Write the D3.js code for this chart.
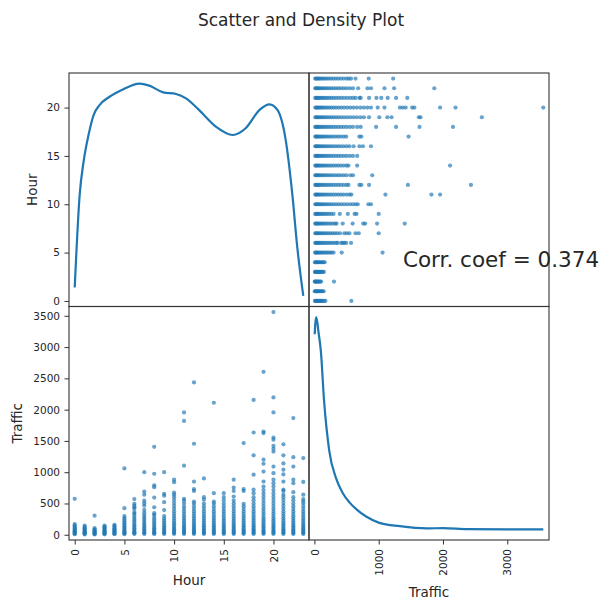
<!DOCTYPE html>
<html>
<head>
<meta charset="utf-8">
<script src="https://cdn.jsdelivr.net/npm/d3@7"></script>
<style>
  body { margin: 0; background: #fff; }
  text { font-family: "DejaVu Sans", sans-serif; fill: #262626; }
</style>
</head>
<body>
<div id="chart"></div>
<script>
// columns of the frame
const columns = ["Hour", "Traffic"];
const hours = [0, 1, 2, 3, 4, 5, 6, 7, 8, 9, 10, 11, 12, 13, 14, 15, 16, 17, 18, 19, 20, 21, 22, 23];

// traffic readings per hour
const trafficByHour = [
    [8, 18, 30, 42, 55, 68, 82, 96, 112, 128, 150, 172, 575],
    [6, 15, 26, 38, 50, 63, 77, 92, 108, 125, 145],
    [5, 12, 22, 33, 45, 58, 72, 88, 105, 305],
    [7, 16, 27, 39, 52, 66, 81, 97, 114, 130, 148],
    [8, 18, 30, 43, 57, 72, 88, 105, 123, 142, 160],
    [10, 22, 36, 52, 70, 90, 112, 135, 160, 185, 212, 240, 268, 298, 425, 1060],
    [12, 26, 42, 60, 80, 102, 126, 152, 180, 210, 240, 272, 305, 340, 362, 415, 440, 465, 495, 570],
    [12, 27, 44, 63, 85, 108, 133, 160, 188, 218, 250, 283, 318, 355, 398, 465, 505, 545, 640, 690, 1000],
    [11, 25, 41, 59, 80, 103, 128, 155, 184, 215, 248, 283, 320, 345, 440, 595, 760, 790, 975, 1405],
    [12, 27, 44, 63, 85, 109, 135, 163, 193, 225, 260, 298, 395, 520, 625, 655, 1000],
    [12, 28, 46, 66, 88, 112, 138, 166, 196, 228, 262, 298, 336, 376, 418, 462, 508, 555, 600, 640, 675, 840, 880],
    [12, 27, 44, 63, 85, 109, 135, 163, 193, 225, 259, 295, 333, 372, 412, 452, 500, 545, 575, 1105, 1820, 1955],
    [12, 27, 44, 63, 85, 109, 135, 163, 193, 225, 259, 295, 333, 372, 412, 455, 500, 530, 700, 730, 850, 1455, 2435],
    [12, 27, 44, 63, 85, 109, 135, 163, 193, 225, 259, 295, 333, 372, 412, 455, 500, 560, 600, 900],
    [12, 27, 44, 63, 85, 109, 135, 163, 193, 225, 259, 295, 333, 372, 412, 455, 500, 530, 665, 2110],
    [12, 27, 44, 63, 85, 109, 135, 163, 193, 225, 259, 295, 333, 372, 412, 455, 500, 550, 600, 665],
    [12, 27, 44, 63, 85, 109, 135, 163, 193, 225, 259, 295, 333, 372, 412, 455, 500, 545, 610, 700, 755, 880],
    [12, 27, 44, 63, 85, 109, 135, 163, 193, 225, 259, 295, 333, 372, 412, 455, 495, 700, 730, 1465],
    [12, 27, 44, 63, 85, 109, 135, 163, 193, 225, 259, 295, 333, 372, 412, 455, 500, 550, 600, 665, 720, 960, 1270, 1635, 2155],
    [14, 30, 48, 68, 90, 114, 140, 168, 198, 230, 264, 300, 338, 378, 420, 464, 510, 558, 608, 660, 715, 770, 850, 1010, 1135, 1200, 1625, 1650, 2605],
    [14, 30, 48, 68, 90, 114, 140, 168, 198, 230, 264, 300, 338, 378, 420, 464, 510, 558, 608, 660, 715, 770, 825, 880, 985, 1090, 1330, 1375, 1420, 1520, 1555, 1955, 2195, 3560],
    [13, 28, 46, 66, 88, 112, 138, 166, 196, 228, 262, 298, 336, 376, 418, 462, 508, 555, 600, 640, 700, 720, 850, 965, 1040, 1140, 1270, 1445],
    [12, 27, 44, 63, 85, 109, 135, 163, 193, 225, 259, 295, 333, 372, 412, 455, 500, 550, 600, 680, 825, 880, 1090, 1240, 1865],
    [12, 27, 44, 63, 85, 109, 135, 163, 193, 225, 259, 295, 333, 372, 412, 455, 500, 535, 570, 640, 845, 1225]
];

// density curves on the diagonal
const hourKdeAt = [0, 0.5, 0.9, 1.4, 1.9, 2.5, 3.5, 4.9, 6.5, 7.5, 8.9, 10.2, 11.2, 12.5, 14.2, 15.9, 17.2, 18.6, 19.6, 20.4, 21.2, 21.9, 22.4, 23];
const hourKdeDensity = [0.0051, 0.0284, 0.0368, 0.0435, 0.0484, 0.0509, 0.0530, 0.0549, 0.0563, 0.0558, 0.0541, 0.0537, 0.0526, 0.0497, 0.0455, 0.0434, 0.0451, 0.0497, 0.0511, 0.0497, 0.0426, 0.0284, 0.0151, 0.0030];
const trafficKdeAt = [5, 15, 30, 65, 100, 150, 230, 335, 438, 545, 650, 805, 1010, 1330, 1745, 2005, 2375, 3000, 3560];
const trafficKdeDensity = [0.00277, 0.00292, 0.00300, 0.00279, 0.00255, 0.00188, 0.00121, 0.00084, 0.00064, 0.00051, 0.00042, 0.00032, 0.000235, 0.00019, 0.00016, 0.000165, 0.000151, 0.000147, 0.000147];

const hourTicks = [0, 5, 10, 15, 20];
const trafficYTicks = [0, 500, 1000, 1500, 2000, 2500, 3000, 3500];
const trafficXTicks = [0, 1000, 2000, 3000];
const corrCoef = 0.374;

const blue = "#1f77b4";

let rows = [];
hours.forEach((h, i) => trafficByHour[i].forEach(t => rows.push({Hour: h, Traffic: t})));

let svg = d3.select("#chart").append("svg")
    .attr("width", 602)
    .attr("height", 601);

let gridLeft = 69, gridTop = 73, cellW = 240, cellH = 233.5;

svg.append("text")
    .attr("x", 301)
    .attr("y", 26)
    .attr("text-anchor", "middle")
    .style("font-size", "17px")
    .text("Scatter and Density Plot");

// pandas style limits: range padded by 5 percent
function padded(values) {
    let ext = d3.extent(values);
    let d = (ext[1] - ext[0]) * 0.025;
    return [ext[0] - d, ext[1] + d];
}
let bounds = {
    Hour: padded(rows.map(d => d.Hour)),
    Traffic: padded(rows.map(d => d.Traffic))
};

function xScale(col, j) {
    return d3.scaleLinear().domain(bounds[col]).range([gridLeft + j * cellW, gridLeft + (j + 1) * cellW]);
}
function yScale(col, i) {
    return d3.scaleLinear().domain(bounds[col]).range([gridTop + (i + 1) * cellH, gridTop + i * cellH]);
}

let line = d3.line().curve(d3.curveMonotoneX);

columns.forEach((rowCol, i) => {
    columns.forEach((colCol, j) => {
        let x = xScale(colCol, j);
        let g = svg.append("g");

        if (i === j) {
            let at = i === 0 ? hourKdeAt : trafficKdeAt;
            let dens = i === 0 ? hourKdeDensity : trafficKdeDensity;
            let ext = d3.extent(dens);
            let pad = (ext[1] - ext[0]) * 0.05;
            let y = d3.scaleLinear().domain([ext[0] - pad, ext[1] + pad])
                .range([gridTop + (i + 1) * cellH, gridTop + i * cellH]);
            g.append("path")
                .attr("d", line(at.map((a, k) => [x(a), y(dens[k])])))
                .attr("fill", "none")
                .attr("stroke", blue)
                .attr("stroke-width", 2.2);
        } else {
            let y = yScale(rowCol, i);
            g.selectAll("circle").data(rows).enter()
                .append("circle")
                .attr("cx", d => x(d[colCol]))
                .attr("cy", d => y(d[rowCol]))
                .attr("r", 2.1)
                .attr("fill", blue)
                .attr("opacity", 0.68);
        }

        g.append("rect")
            .attr("x", gridLeft + j * cellW)
            .attr("y", gridTop + i * cellH)
            .attr("width", cellW)
            .attr("height", cellH)
            .attr("fill", "none")
            .attr("stroke", "#333")
            .attr("stroke-width", 1.1);
    });
});

let fmt = d3.format("d");

// left axes
let yAxisTop = svg.append("g")
    .attr("transform", `translate(${gridLeft},0)`)
    .call(d3.axisLeft(yScale("Hour", 0)).tickValues(hourTicks).tickFormat(fmt).tickSize(4.5).tickPadding(4.5));
let yAxisBottom = svg.append("g")
    .attr("transform", `translate(${gridLeft},0)`)
    .call(d3.axisLeft(yScale("Traffic", 1)).tickValues(trafficYTicks).tickFormat(fmt).tickSize(4.5).tickPadding(4.5));

// bottom axes with rotated labels
let xAxisLeft = svg.append("g")
    .attr("transform", `translate(0,${gridTop + 2 * cellH})`)
    .call(d3.axisBottom(xScale("Hour", 0)).tickValues(hourTicks).tickFormat(fmt).tickSize(4.5));
let xAxisRight = svg.append("g")
    .attr("transform", `translate(0,${gridTop + 2 * cellH})`)
    .call(d3.axisBottom(xScale("Traffic", 1)).tickValues(trafficXTicks).tickFormat(fmt).tickSize(4.5));

[xAxisLeft, xAxisRight].forEach(ax => {
    ax.selectAll("text")
        .attr("x", -9)
        .attr("y", 0)
        .attr("dy", "0.35em")
        .attr("transform", "rotate(-90)")
        .style("text-anchor", "end");
});

[yAxisTop, yAxisBottom, xAxisLeft, xAxisRight].forEach(ax => {
    ax.select(".domain").remove();
    ax.selectAll("line").attr("stroke", "#333");
    ax.selectAll("text").style("font-size", "10.5px").style("font-family", "DejaVu Sans").attr("fill", "#262626");
});

// axis labels
svg.append("text")
    .attr("transform", `translate(37,${gridTop + cellH / 2}) rotate(-90)`)
    .attr("text-anchor", "middle")
    .style("font-size", "13.5px")
    .text("Hour");
svg.append("text")
    .attr("transform", `translate(22,${gridTop + 1.5 * cellH}) rotate(-90)`)
    .attr("text-anchor", "middle")
    .style("font-size", "13.5px")
    .text("Traffic");
svg.append("text")
    .attr("x", gridLeft + cellW / 2)
    .attr("y", 585)
    .attr("text-anchor", "middle")
    .style("font-size", "13.5px")
    .text("Hour");
svg.append("text")
    .attr("x", gridLeft + 1.5 * cellW)
    .attr("y", 597)
    .attr("text-anchor", "middle")
    .style("font-size", "13.5px")
    .text("Traffic");

// correlation note at axes fraction (0.8, 0.2) of the upper right cell
svg.append("text")
    .attr("x", gridLeft + cellW + 0.8 * cellW)
    .attr("y", gridTop + 0.8 * cellH)
    .attr("text-anchor", "middle")
    .attr("dominant-baseline", "central")
    .style("font-size", "21.5px")
    .text("Corr. coef = " + corrCoef.toFixed(3));
</script>
</body>
</html>
